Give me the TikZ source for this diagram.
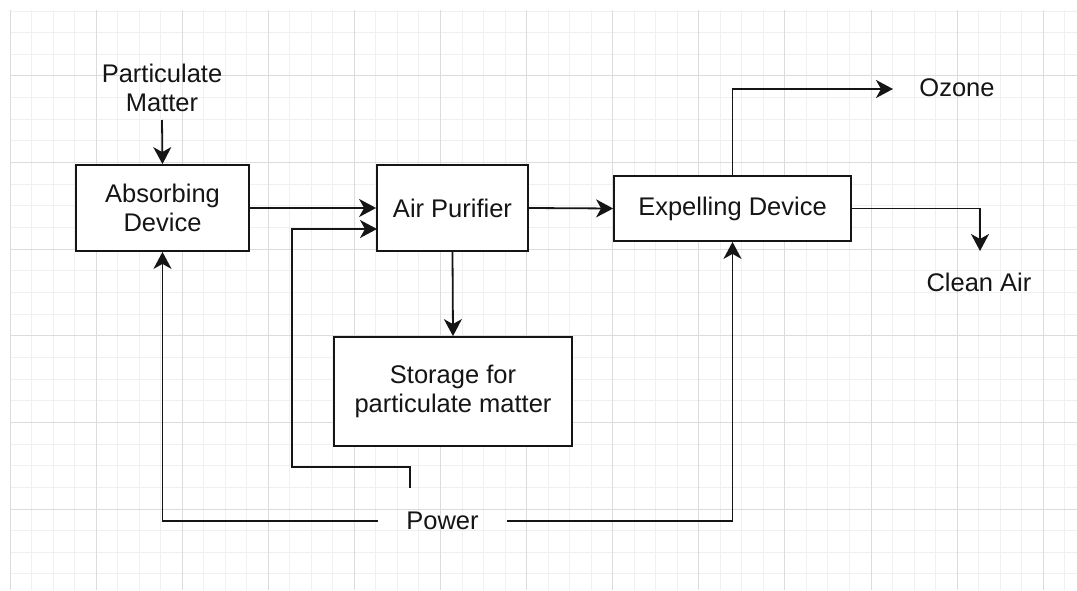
\documentclass[tikz,border=0pt]{standalone}
\usepackage{fontspec}
\setmainfont{Liberation Sans}
\usetikzlibrary{arrows.meta}
\definecolor{gridminor}{HTML}{F0F0F0}
\definecolor{gridmajor}{HTML}{DCDCDC}
\definecolor{ink}{HTML}{151515}
\begin{document}
\begin{tikzpicture}[x=1pt,y=-1pt,
  txt/.style={font=\fontsize{25.5}{29.5}\selectfont,text=ink,align=center},
  box/.style={txt,draw=ink,line width=1.8pt,fill=white,inner sep=0pt},
  lbl/.style={txt,inner sep=0pt},
  ln/.style={draw=ink,line width=1.8pt},
  arr/.style={ln,-{Stealth[length=17pt,width=18pt,inset=5pt]}}]
\useasboundingbox (0,0) rectangle (1077,591);
\fill[white] (0,0) rectangle (1077,591);
% grid
\foreach \i in {0,...,49} {\draw[gridminor,line width=1pt] ({10+21.525*\i},10) -- ({10+21.525*\i},590);}
\foreach \j in {0,...,26} {\draw[gridminor,line width=1pt] (10,{11.05+21.65*\j}) -- (1077,{11.05+21.65*\j});}
\foreach \i in {0,...,12} {\draw[gridmajor,line width=1pt] ({10+86.1*\i},10) -- ({10+86.1*\i},590);}
\foreach \j in {0,...,5} {\draw[gridmajor,line width=1pt] (10,{76+86.6*\j}) -- (1077,{76+86.6*\j});}
% nodes
\node[box,minimum width=173pt,minimum height=86pt] (absorb) at (162.5,208) {Absorbing\\Device};
\node[box,minimum width=151pt,minimum height=86pt] (purifier) at (452.5,208) {Air Purifier};
\node[box,minimum width=237pt,minimum height=65pt] (expel) at (732.5,208.5) {Expelling Device};
\node[box,minimum width=238pt,minimum height=109pt] (storage) at (453,391.5) {Storage for\\particulate matter};
\node[lbl] (pm) at (162,88) {Particulate\\Matter};
\node[lbl] (ozone) at (957,88) {Ozone};
\node[lbl] (clean) at (979,282) {Clean Air};
\node[lbl,minimum width=129pt,minimum height=20pt] (power) at (442.5,521) {Power};
% free ends
\coordinate (pmout) at (162,120);
\coordinate (ozin) at (893,89);
\coordinate (cleanin) at (980,251);
\coordinate (pw) at (410,488);
\coordinate (bend) at (292,467);
\coordinate (pin2) at (377,229);
% connectors
\draw[arr] (pmout) -- (absorb.north);
\draw[arr] (absorb.east) -- (purifier.west);
\draw[arr] (purifier.east) -- (expel.west);
\draw[arr] (purifier.south) -- (storage.north);
\draw[arr] (expel.north) |- (ozin);
\draw[arr] (expel.east) -| (cleanin);
\draw[arr] (power.west) -| (absorb.south);
\draw[arr] (power.east) -| (expel.south);
\draw[arr] (pw) |- (bend) |- (pin2);
\end{tikzpicture}
\end{document}
